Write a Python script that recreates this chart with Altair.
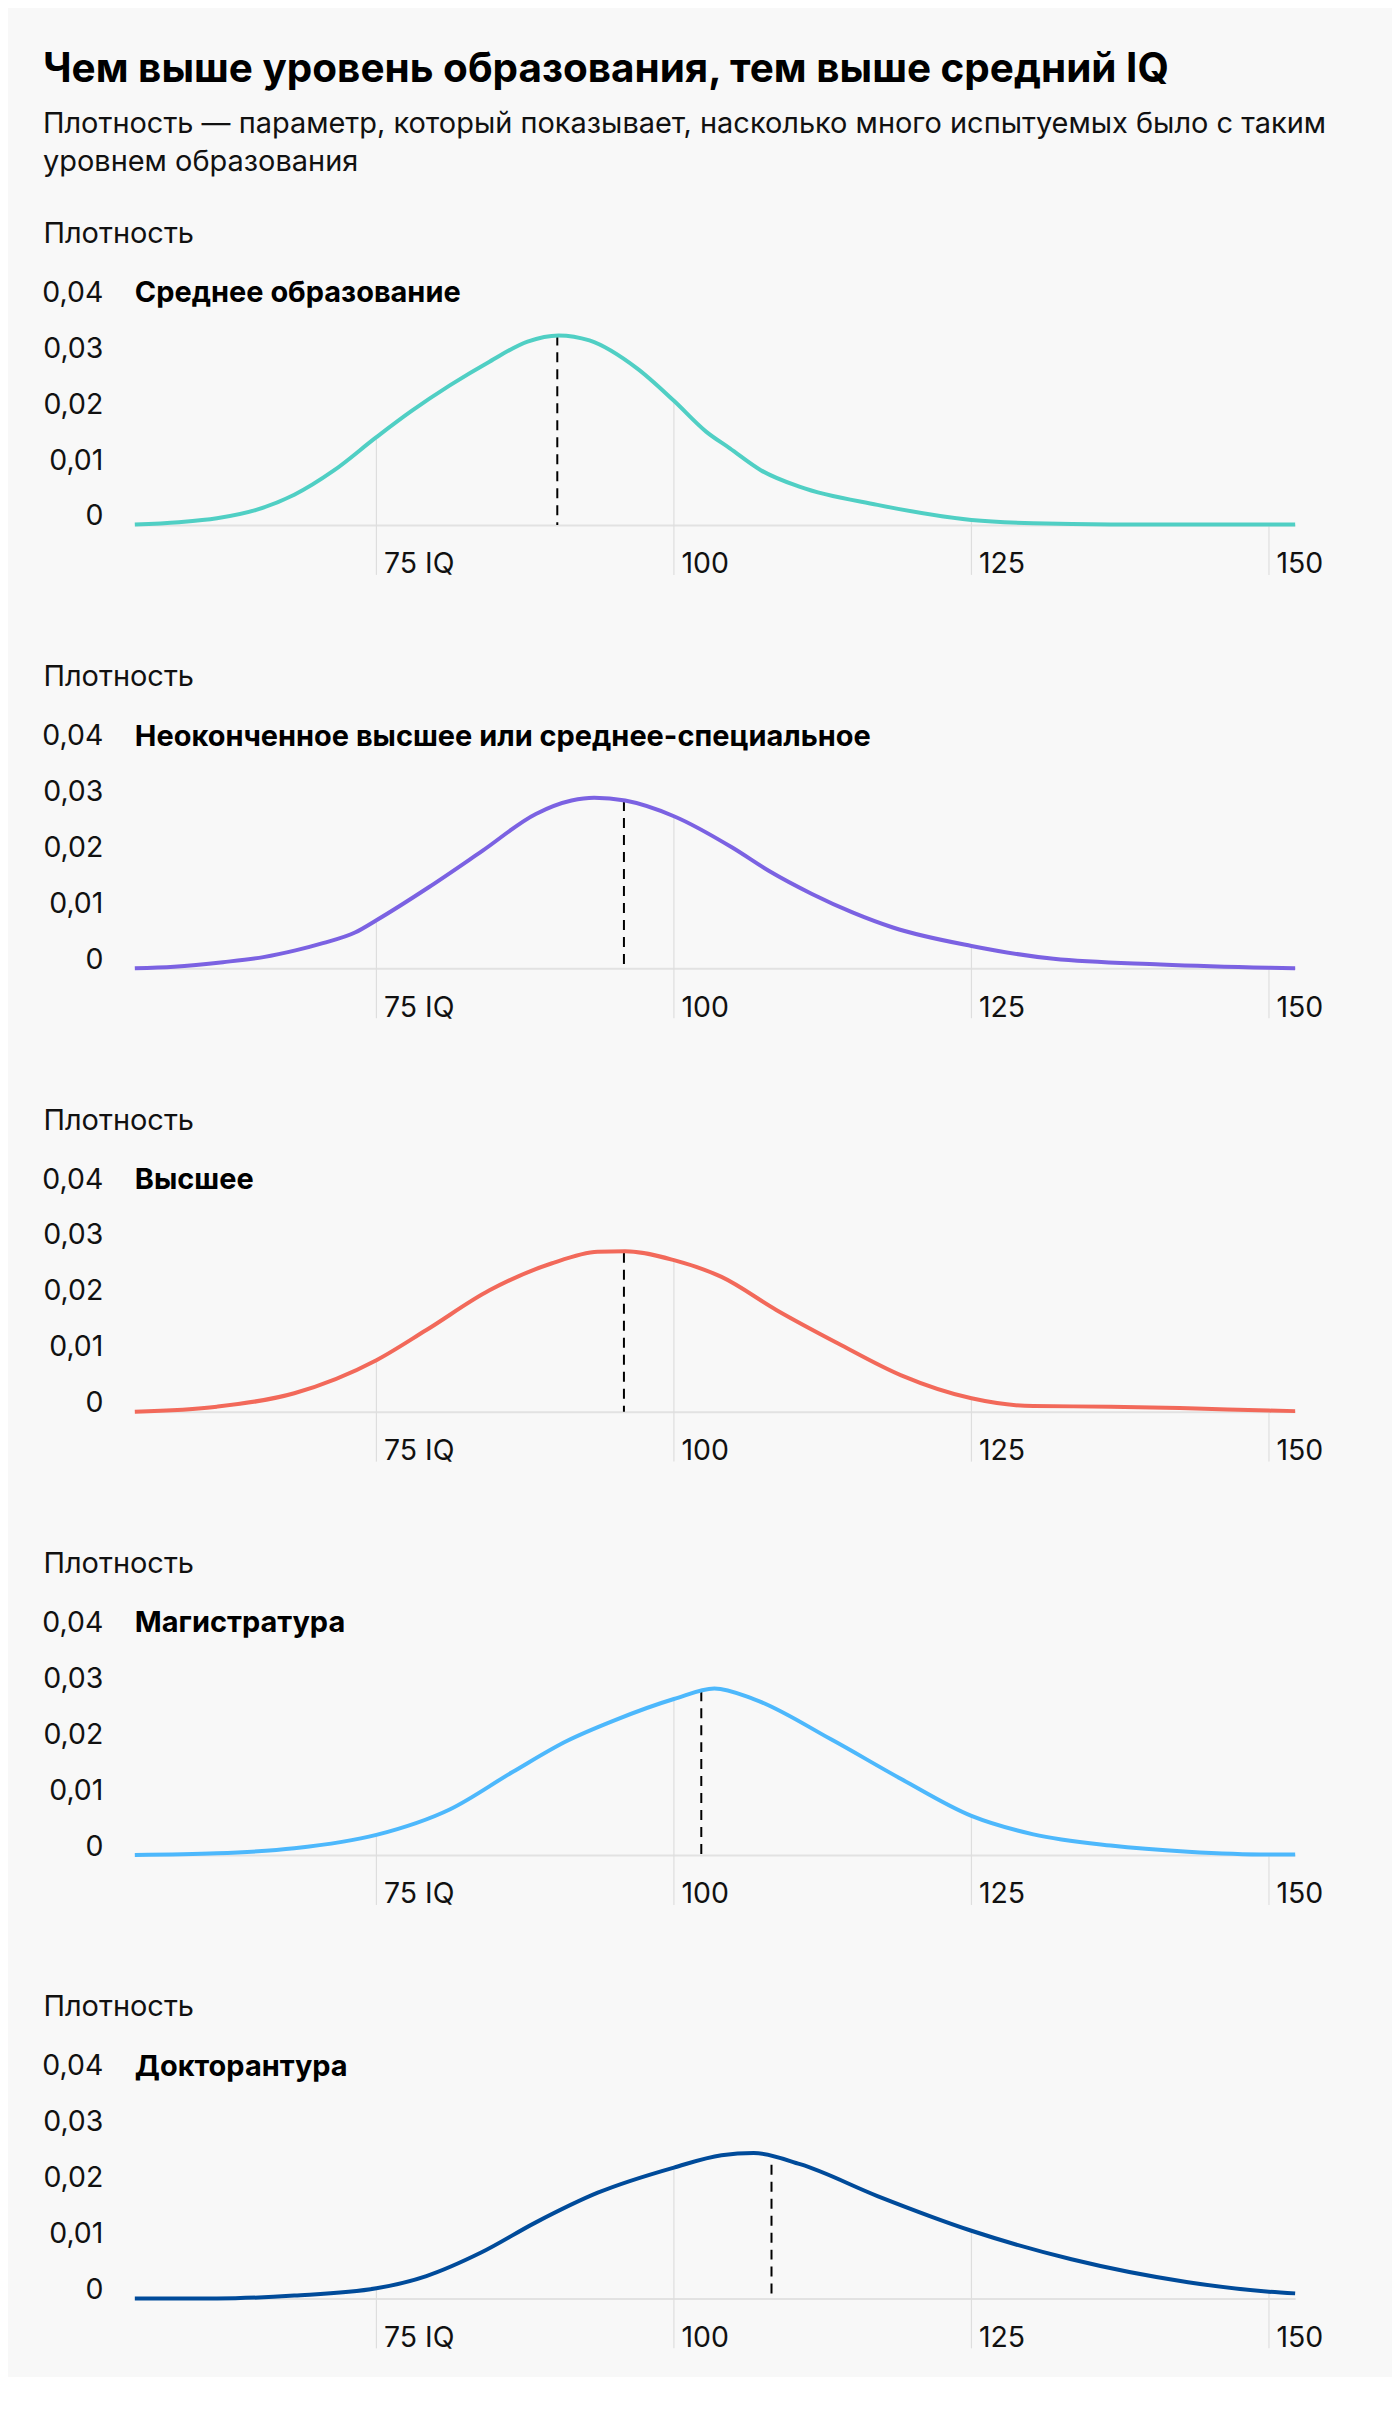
import altair as alt
import pandas as pd

FONT = "Inter"
TEXT_COLOR = "#111111"
BG = "#f8f8f8"

TITLE = "Чем выше уровень образования, тем выше средний IQ"
SUB1 = "Плотность — параметр, который показывает, насколько много испытуемых было с таким"
SUB2 = "уровнем образования"
Y_TITLE = "Плотность"

names = [
    "Среднее образование",
    "Неоконченное высшее или среднее-специальное",
    "Высшее",
    "Магистратура",
    "Докторантура",
]
colors = ["#50cfc4", "#7b62e2", "#f2695a", "#4db8fc", "#004b9a"]

iq_1 = [54.7, 58.4, 61.6, 64.9, 68.1, 71.4, 75, 77.9, 81.2, 84.5, 87.7, 90.3, 92.9, 96.9, 100,
        102.7, 104.7, 107.3, 110.6, 117.1, 125, 130.2, 136.7, 150, 152.2]
dens_1 = [0.0001, 0.0005, 0.0012, 0.0027, 0.0054, 0.0097, 0.0157, 0.0203, 0.0250, 0.0292, 0.0328,
          0.0339, 0.0330, 0.0280, 0.0222, 0.0167, 0.0137, 0.0098, 0.0068, 0.0036, 0.0009, 0.0003,
          0.0001, 0.0001, 0.0001]

iq_2 = [54.7, 58, 62.1, 65.5, 68.2, 70.5, 73.2, 75, 79.4, 83.9, 88.4, 91.4, 93.3, 95.9, 100,
        104.9, 108, 111.6, 115, 118.4, 125, 131.9, 140.9, 150, 152.2]
dens_2 = [0.0, 0.0003, 0.0011, 0.0020, 0.0032, 0.0045, 0.0064, 0.0086, 0.0145, 0.0210, 0.0276,
          0.0300, 0.0305, 0.0300, 0.0272, 0.0216, 0.0174, 0.0133, 0.0100, 0.0073, 0.0040, 0.0017,
          0.0007, 0.0001, 0.0]

iq_3 = [54.7, 61.6, 68.1, 75, 79.2, 84.5, 89.7, 93.6, 95.9, 100, 104, 108.6, 113.8, 119.1, 125,
        130.2, 136.7, 143.2, 150, 152.2]
dens_3 = [0.0, 0.0009, 0.0033, 0.0092, 0.0146, 0.0217, 0.0265, 0.0286, 0.0287, 0.0271, 0.0241,
          0.0182, 0.0122, 0.0065, 0.0024, 0.0010, 0.0009, 0.0006, 0.0002, 0.0001]

iq_4 = [54.7, 61.6, 68.1, 75, 81.2, 86.4, 91, 94.9, 100, 103.4, 106.7, 113.2, 119.1, 125, 130.2,
        136.7, 143.2, 150, 152.2]
dens_4 = [0.0, 0.0003, 0.0012, 0.0036, 0.0082, 0.0148, 0.0204, 0.0240, 0.0279, 0.0298, 0.0279,
          0.0207, 0.0136, 0.0070, 0.0037, 0.0017, 0.0006, 0.0001, 0.0001]

iq_5 = [54.7, 61.6, 68.1, 75, 79.2, 83.8, 88.4, 93.6, 100, 104, 106.7, 110.6, 117.1, 125, 133.4,
        143.2, 150, 152.2]
dens_5 = [0.0, 0.0, 0.0005, 0.0018, 0.0040, 0.0082, 0.0136, 0.0189, 0.0234, 0.0256, 0.0260,
          0.0240, 0.0183, 0.0121, 0.0070, 0.0029, 0.0012, 0.0009]

iqs = [iq_1, iq_2, iq_3, iq_4, iq_5]
denss = [dens_1, dens_2, dens_3, dens_4, dens_5]

mean_iq = [90.2, 95.8, 95.8, 102.3, 108.2]
mean_dens = [0.0339, 0.0299, 0.0284, 0.0293, 0.0239]

x_ticks = [75, 100, 125, 150]
y_ticks = [0, 0.01, 0.02, 0.03, 0.04]

W, H = 1162, 224
FS = 29
AFS = 28.5

x_enc = alt.X(
    "iq:Q",
    scale=alt.Scale(domain=[54.7, 152.2], nice=False, zero=False),
    axis=alt.Axis(
        values=x_ticks, format="d",
        labelExpr="datum.value == 75 ? '75 IQ' : datum.label",
        ticks=False, tickSize=0, grid=False,
        domain=True, domainColor="#e2e2e2", domainWidth=2,
        labelAlign="left", labelOffset=7, labelBaseline="alphabetic", labelPadding=48,
        labelFlush=False, labelOverlap=False, labelBound=False,
        labelFont=FONT, labelFontSize=AFS, labelColor=TEXT_COLOR,
        title=None,
    ),
)

y_enc = alt.Y(
    "d:Q",
    scale=alt.Scale(domain=[0, 0.04], nice=False, zero=True),
    axis=alt.Axis(
        values=y_ticks,
        labelExpr="datum.value == 0 ? '0' : replace(format(datum.value, '.2f'), '.', ',')",
        ticks=False, tickSize=0, domain=False, grid=False,
        labelPadding=32, labelBaseline="alphabetic", labelFlush=False, labelOverlap=False,
        labelFont=FONT, labelFontSize=AFS, labelColor=TEXT_COLOR,
        title=Y_TITLE, titleAngle=0, titleAlign="left", titleBaseline="alphabetic",
        titleX=-92, titleY=-59, titleFont=FONT, titleFontSize=FS,
        titleFontWeight="normal", titleColor=TEXT_COLOR,
    ),
)


def panel(i):
    df = pd.DataFrame({"iq": iqs[i], "d": denss[i]})
    base = alt.Chart(df)
    grid = base.transform_filter(
        alt.FieldOneOfPredicate(field="iq", oneOf=x_ticks)
    ).mark_rule(color="#dedede", strokeWidth=1.2).encode(
        x=x_enc, y=y_enc, y2=alt.value(H + 50)
    )
    line = base.mark_line(color=colors[i], strokeWidth=4, interpolate="monotone").encode(
        x=x_enc, y=y_enc
    )
    mdf = pd.DataFrame({"iq": [mean_iq[i]], "d": [mean_dens[i]]})
    mean = alt.Chart(mdf).mark_rule(color="#000000", strokeWidth=2, strokeDash=[10, 7]).encode(
        x=x_enc, y=y_enc, y2=alt.datum(0)
    )
    ttl = alt.Chart(pd.DataFrame({"t": [names[i]]})).mark_text(
        align="left", baseline="alphabetic", font=FONT, fontSize=FS,
        fontWeight="bold", color="#000000",
    ).encode(text="t:N", x=alt.value(0), y=alt.value(1))
    layers = [grid, mean, line, ttl]
    if i == 0:
        tdf = pd.DataFrame({"t": [TITLE]})
        head = alt.Chart(tdf).mark_text(
            align="left", baseline="alphabetic", font=FONT, fontSize=40.5,
            fontWeight="bold", color="#000000",
        ).encode(text="t:N", x=alt.value(-92), y=alt.value(-220))
        s1 = alt.Chart(pd.DataFrame({"t": [SUB1]})).mark_text(
            align="left", baseline="alphabetic", font=FONT, fontSize=FS, color=TEXT_COLOR,
        ).encode(text="t:N", x=alt.value(-92), y=alt.value(-169))
        s2 = alt.Chart(pd.DataFrame({"t": [SUB2]})).mark_text(
            align="left", baseline="alphabetic", font=FONT, fontSize=FS, color=TEXT_COLOR,
        ).encode(text="t:N", x=alt.value(-92), y=alt.value(-130))
        anchor = alt.Chart(pd.DataFrame({"a": [0]})).mark_rule(color=BG, strokeWidth=1).encode(
            x=alt.value(-126), x2=alt.value(1258), y=alt.value(-291)
        )
        layers = [anchor, head, s1, s2] + layers
    if i == 4:
        anchor = alt.Chart(pd.DataFrame({"a": [0]})).mark_rule(color=BG, strokeWidth=1).encode(
            x=alt.value(-126), x2=alt.value(1258), y=alt.value(300)
        )
        layers = [anchor] + layers
    return alt.layer(*layers).properties(width=W, height=H)


chart = alt.vconcat(*[panel(i) for i in range(5)], spacing=220, bounds="flush").properties(
    padding=0, background=BG
).configure_view(stroke=None)

chart.save("out.html", embed_options={"renderer": "svg", "actions": False})
